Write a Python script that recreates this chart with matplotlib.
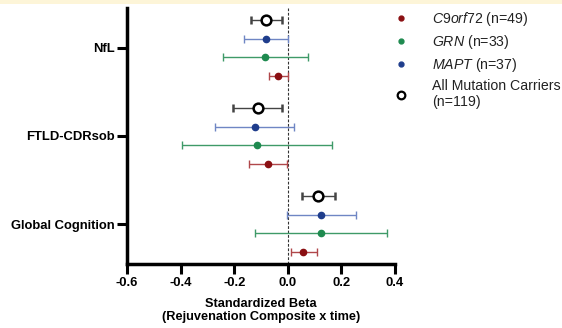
import matplotlib
matplotlib.use("Agg")
import matplotlib.pyplot as plt
from matplotlib.lines import Line2D
from matplotlib.patches import Rectangle
import numpy as np

plt.rcParams['font.family'] = ['Liberation Sans', 'DejaVu Sans']
plt.rcParams['mathtext.fontset'] = 'custom'
plt.rcParams['mathtext.it'] = 'Liberation Sans:italic'
plt.rcParams['mathtext.rm'] = 'Liberation Sans'

# ---- data ----
outcomes = ["NfL", "FTLD-CDRsob", "Global Cognition"]
groups = ["All Mutation Carriers", "MAPT", "GRN", "C9orf72"]

all_beta = [-0.081, -0.112, 0.113]
all_lo = [-0.137, -0.203, 0.053]
all_hi = [-0.022, -0.022, 0.177]

mapt_beta = [-0.080, -0.123, 0.123]
mapt_lo = [-0.162, -0.270, -0.004]
mapt_hi = [0.000, 0.024, 0.254]

grn_beta = [-0.085, -0.116, 0.124]
grn_lo = [-0.243, -0.395, -0.122]
grn_hi = [0.077, 0.164, 0.372]

c9_beta = [-0.037, -0.075, 0.058]
c9_lo = [-0.069, -0.145, 0.012]
c9_hi = [0.000, -0.004, 0.109]

legend_labels = [r"$\it{C9orf72}$ (n=49)", r"$\it{GRN}$ (n=33)",
                 r"$\it{MAPT}$ (n=37)", "All Mutation Carriers\n(n=119)"]

# ---- figure ----
fig = plt.figure(figsize=(5.62, 3.28), dpi=100)
fig.add_artist(Rectangle((0, 1 - 4/328), 1, 4/328, transform=fig.transFigure,
                         facecolor='#fdf5d8', edgecolor='none'))
ax = fig.add_axes([127/562, (328-264)/328, (395-127)/562, (264-8)/328])

group_gap = 4.7
centers = -np.arange(len(outcomes)) * group_gap
offsets = {"all": 1.5, "mapt": 0.5, "grn": -0.5, "c9": -1.5}

series = [
    ("all", all_beta, all_lo, all_hi, 'black', 'black'),
    ("mapt", mapt_beta, mapt_lo, mapt_hi, '#1f3d8c', '#6f86c4'),
    ("grn", grn_beta, grn_lo, grn_hi, '#1e8a4f', '#3f9a68'),
    ("c9", c9_beta, c9_lo, c9_hi, '#8a0f12', '#b0474a'),
]

for key, b, lo, hi, mc, lc in series:
    b = np.array(b); lo = np.array(lo); hi = np.array(hi)
    y = centers + offsets[key]
    if key == "all":
        ax.errorbar(b, y, xerr=[b - lo, hi - b], fmt='o', mfc='white', mec='black',
                    mew=1.8, ms=7, ecolor='#444444', elinewidth=1.0, capsize=3,
                    capthick=1.0, zorder=4)
    else:
        ax.errorbar(b, y, xerr=[b - lo, hi - b], fmt='o', color=mc, ms=4.5,
                    ecolor=lc, elinewidth=1.0, capsize=3, capthick=1.0, zorder=3)

ax.axvline(0, color='#333333', lw=0.8, ls=(0, (2.5, 1.5)), zorder=1)

ax.set_xlim(-0.6, 0.4)
ax.set_ylim(centers[-1] - 2.13, 2.13)
ax.set_xticks([-0.6, -0.4, -0.2, 0.0, 0.2, 0.4])
ax.set_xticklabels(["-0.6", "-0.4", "-0.2", "0.0", "0.2", "0.4"])
ax.set_yticks(centers)
ax.set_yticklabels(outcomes)
for lab in ax.get_xticklabels() + ax.get_yticklabels():
    lab.set_fontweight('bold')
    lab.set_fontsize(9.4)
ax.tick_params(axis='both', width=2.2, length=7, color='black', pad=2)
ax.spines['top'].set_visible(False)
ax.spines['right'].set_visible(False)
ax.spines['left'].set_linewidth(2.5)
ax.spines['bottom'].set_linewidth(2.5)
ax.set_xlabel("Standardized Beta\n(Rejuvenation Composite x time)",
              fontweight='bold', fontsize=9.2, labelpad=7, linespacing=1.05)

handles = [
    Line2D([], [], marker='o', ls='none', color='#8a0f12', ms=3.5),
    Line2D([], [], marker='o', ls='none', color='#1e8a4f', ms=3.5),
    Line2D([], [], marker='o', ls='none', color='#1f3d8c', ms=3.5),
    Line2D([], [], marker='o', ls='none', mfc='white', mec='black', mew=1.6, ms=5.5),
]
leg = fig.legend(handles, legend_labels, loc='upper left',
                 bbox_to_anchor=(394/562, 1 - 10/328), frameon=False,
                 fontsize=10.2, handlelength=1.0, handletextpad=1.7,
                 labelspacing=0.35, borderaxespad=0, borderpad=0)
for t in leg.get_texts():
    t.set_color('#222222')

fig.savefig("out.png", dpi=100)
